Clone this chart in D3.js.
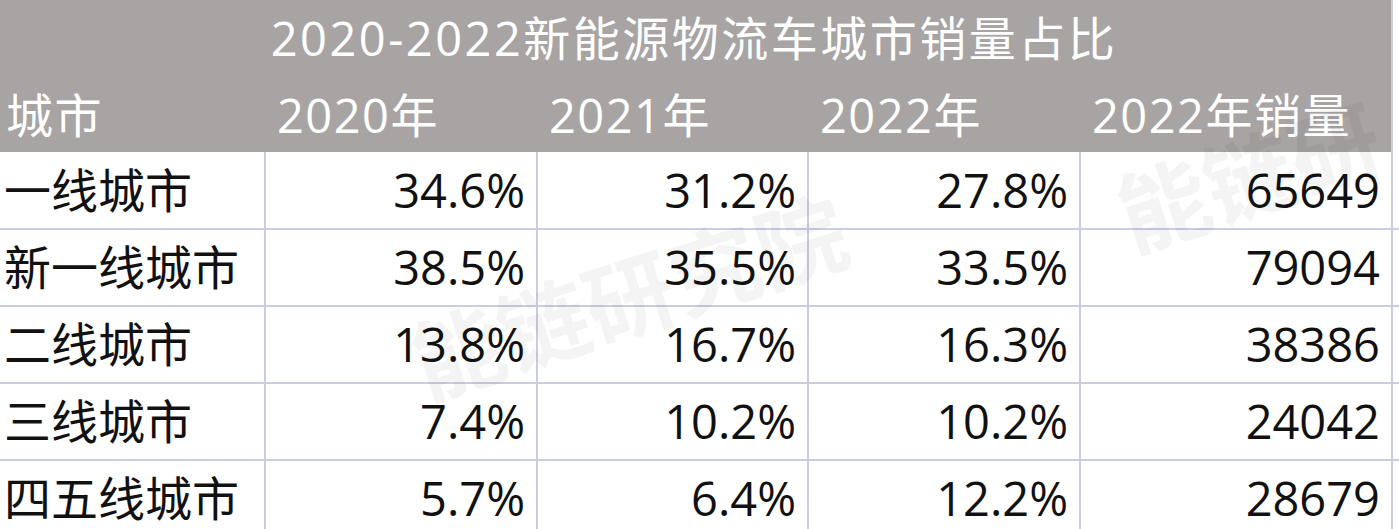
<!DOCTYPE html>
<html><head><meta charset="utf-8">
<script src="https://cdn.jsdelivr.net/npm/d3@7"></script>
<style>body{margin:0;background:#fff;overflow:hidden}</style>
</head><body>
<script>
var title = "2020-2022新能源物流车城市销量占比";
var headers = ["城市", "2020年", "2021年", "2022年", "2022年销量"];
var cities = ["一线城市", "新一线城市", "二线城市", "三线城市", "四五线城市"];
var share2020 = ["34.6%", "38.5%", "13.8%", "7.4%", "5.7%"];
var share2021 = ["31.2%", "35.5%", "16.7%", "10.2%", "6.4%"];
var share2022 = ["27.8%", "33.5%", "16.3%", "10.2%", "12.2%"];
var sales2022 = [65649, 79094, 38386, 24042, 28679];

var W = 1399, H = 529;
var font = "'Open Sans', 'Noto Sans CJK SC', sans-serif";
var svg = d3.select("body").append("svg").attr("width", W).attr("height", H);

var colEdges = [0, 265, 537, 808, 1080, 1392];
var x = d3.scaleOrdinal().domain(d3.range(5)).range(colEdges.slice(0, 5));
var y = d3.scaleLinear().domain([0, 1]).range([152, 229]);

// header
svg.append("rect").attr("x", 0).attr("y", 0).attr("width", 1392).attr("height", 152).attr("fill", "#a8a4a4");
svg.append("text").attr("x", 694).attr("y", 56).attr("text-anchor", "middle")
  .attr("letter-spacing", 2.5)
  .attr("font-family", font).attr("font-size", 47).attr("fill", "#fff").text(title);
svg.selectAll(".hd").data(headers).enter().append("text")
  .attr("x", function (d, i) { return x(i) + (i == 0 ? 6 : 12); })
  .attr("letter-spacing", 1.5)
  .attr("y", 133).attr("font-family", font).attr("font-size", 47).attr("fill", "#fff")
  .text(function (d) { return d; });

// grid
var g = svg.append("g").attr("stroke", "#c9cde0").attr("stroke-width", 2);
d3.range(1, 6).forEach(function (r) {
  g.append("line").attr("x1", 0).attr("x2", W).attr("y1", y(r)).attr("y2", y(r));
});
colEdges.slice(1).forEach(function (c) {
  g.append("line").attr("x1", c).attr("x2", c).attr("y1", 152).attr("y2", H);
});
g.append("line").attr("x1", 1392).attr("x2", 1392).attr("y1", 0).attr("y2", 152);

// watermark
svg.append("text").attr("x", 640).attr("y", 330).attr("text-anchor", "middle")
  .attr("transform", "rotate(-18,640,330)").attr("font-family", font).attr("font-weight", "bold")
  .attr("font-size", 90).attr("fill", "#000").attr("opacity", 0.04).text("能链研究院");
svg.append("text").attr("x", 1260).attr("y", 210).attr("text-anchor", "middle")
  .attr("transform", "rotate(-18,1260,210)").attr("font-family", font).attr("font-weight", "bold")
  .attr("font-size", 90).attr("fill", "#000").attr("opacity", 0.04).text("能链研");

// body
var rows = cities.map(function (c, i) {
  return [c, share2020[i], share2021[i], share2022[i], String(sales2022[i])];
});
rows.forEach(function (row, r) {
  row.forEach(function (v, c) {
    svg.append("text")
      .attr("x", c == 0 ? 4 : colEdges[c + 1] - 12)
      .attr("y", y(r) + 56)
      .attr("text-anchor", c == 0 ? "start" : "end")
      .attr("font-family", font).attr("font-size", 47).attr("fill", "#111")
      .text(v);
  });
});
</script>
</body></html>
